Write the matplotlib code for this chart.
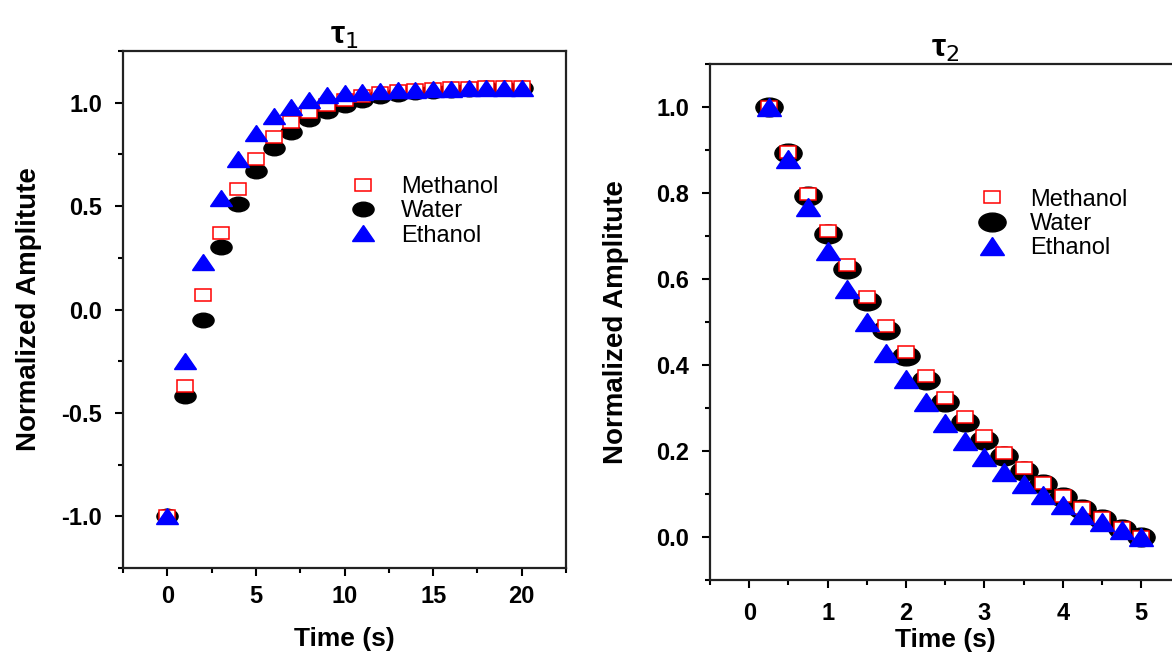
import matplotlib
matplotlib.use("Agg")
import matplotlib.pyplot as plt
from matplotlib.markers import MarkerStyle
from matplotlib.transforms import Affine2D
from matplotlib.ticker import MultipleLocator

plt.rcParams['font.family'] = ['Liberation Sans', 'DejaVu Sans']
plt.rcParams['axes.unicode_minus'] = False

# T1 recovery data
t1_time = list(range(0, 21))
t1_methanol = [-1.0, -0.37, 0.07, 0.37, 0.585, 0.73, 0.835, 0.905, 0.955, 0.99, 1.015,
               1.03, 1.045, 1.055, 1.06, 1.065, 1.07, 1.07, 1.075, 1.075, 1.075]
t1_water = [-1.0, -0.42, -0.05, 0.30, 0.51, 0.67, 0.78, 0.86, 0.92, 0.96, 0.99,
            1.015, 1.03, 1.04, 1.05, 1.055, 1.06, 1.065, 1.07, 1.07, 1.07]
t1_ethanol = [-1.0, -0.25, 0.23, 0.54, 0.73, 0.855, 0.935, 0.98, 1.015, 1.035, 1.045,
              1.05, 1.055, 1.06, 1.06, 1.065, 1.065, 1.07, 1.07, 1.07, 1.07]

# T2 decay data
t2_time = [0.25, 0.5, 0.75, 1.0, 1.25, 1.5, 1.75, 2.0, 2.25, 2.5,
           2.75, 3.0, 3.25, 3.5, 3.75, 4.0, 4.25, 4.5, 4.75, 5.0]
t2_methanol = [1.0, 0.895, 0.798, 0.711, 0.632, 0.559, 0.491, 0.43, 0.375, 0.324,
               0.278, 0.234, 0.195, 0.16, 0.126, 0.095, 0.068, 0.044, 0.021, 0.0]
t2_water = [1.0, 0.892, 0.793, 0.704, 0.622, 0.548, 0.481, 0.42, 0.366, 0.313,
            0.267, 0.225, 0.189, 0.153, 0.123, 0.092, 0.066, 0.042, 0.019, 0.0]
t2_ethanol = [1.0, 0.878, 0.767, 0.665, 0.577, 0.5, 0.428, 0.367, 0.314, 0.266,
              0.224, 0.186, 0.152, 0.123, 0.097, 0.074, 0.052, 0.034, 0.017, 0.0]

# the original picture is squashed vertically, so markers are a bit wide
def wide(m, sx):
    return MarkerStyle(m, transform=Affine2D().scale(sx, 1.0))

fig = plt.figure(figsize=(11.72, 6.53), dpi=100)
ax1 = fig.add_axes([0.105, 0.130, 0.378, 0.792])
ax2 = fig.add_axes([0.6058, 0.112, 0.4014, 0.790])

def draw(ax, x, meth, wat, eth, sizes):
    cs, ss, ts = sizes
    ax.plot(x, wat, linestyle='none', marker=wide('o', 1.45), markersize=cs,
            color='black', label='Water', zorder=3)
    ax.plot(x, meth, linestyle='none', marker=wide('s', 1.3), markersize=ss,
            markerfacecolor='white', markeredgecolor='red', markeredgewidth=1.1,
            label='Methanol', zorder=4)
    ax.plot(x, eth, linestyle='none', marker=wide('^', 1.35), markersize=ts,
            color='blue', label='Ethanol', zorder=5)
    h, l = ax.get_legend_handles_labels()
    order = [1, 0, 2]
    return [h[i] for i in order], [l[i] for i in order]

h1, l1 = draw(ax1, t1_time, t1_methanol, t1_water, t1_ethanol, (10.5, 8.5, 11.5))
h2, l2 = draw(ax2, t2_time, t2_methanol, t2_water, t2_ethanol, (13.5, 8.5, 12.5))

ax1.set_xlim(-2.5, 22.5)
ax1.set_ylim(-1.25, 1.25)
ax1.xaxis.set_major_locator(MultipleLocator(5))
ax1.xaxis.set_minor_locator(MultipleLocator(2.5))
ax1.yaxis.set_major_locator(MultipleLocator(0.5))
ax1.yaxis.set_minor_locator(MultipleLocator(0.25))

ax2.set_xlim(-0.5, 5.5)
ax2.set_ylim(-0.1, 1.1)
ax2.xaxis.set_major_locator(MultipleLocator(1))
ax2.xaxis.set_minor_locator(MultipleLocator(0.5))
ax2.yaxis.set_major_locator(MultipleLocator(0.2))
ax2.yaxis.set_minor_locator(MultipleLocator(0.1))

setup = [(ax1, 'τ$_1$', h1, l1, (0.44, 0.69), 6, 14, -0.182),
         (ax2, 'τ$_2$', h2, l2, (0.505, 0.69), 10, 2, -0.172)]
for ax, title, hh, ll, anchor, xpad, xlpad, ylx in setup:
    for s in ax.spines.values():
        s.set_linewidth(1.6)
        s.set_color('#222222')
    ax.tick_params(which='major', direction='out', length=6, width=1.5,
                   labelsize=17, pad=9)
    ax.tick_params(axis='x', which='major', pad=xpad)
    ax.tick_params(which='minor', direction='out', length=3.5, width=1.5)
    for lab in ax.get_xticklabels() + ax.get_yticklabels():
        lab.set_fontweight('bold')
    ax.set_xlabel('Time (s)', fontsize=19, fontweight='bold', labelpad=xlpad)
    ax.set_ylabel('Normalized Amplitute', fontsize=20, fontweight='bold')
    ax.yaxis.set_label_coords(ylx, 0.5)
    ax.set_title(title, fontsize=23, fontweight='bold', pad=4)
    ax.legend(hh, ll, loc='center left', bbox_to_anchor=anchor, frameon=False,
              fontsize=17, labelspacing=0.1, handletextpad=0.6, handlelength=2.0)

fig.savefig('out.png', dpi=100)
